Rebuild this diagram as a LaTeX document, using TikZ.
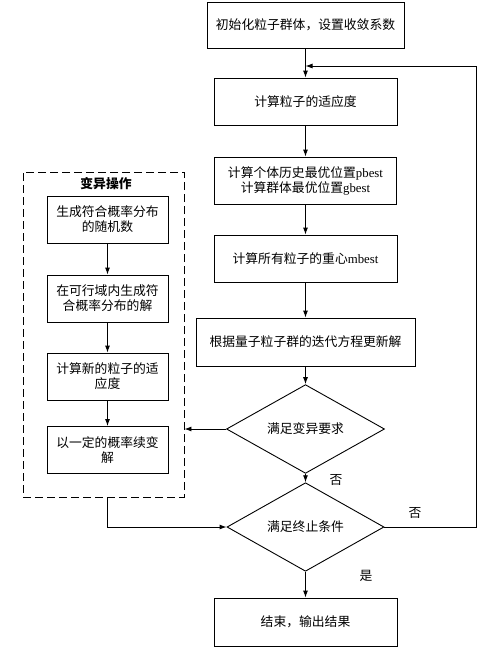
\documentclass[tikz,border=0pt]{standalone}
\usepackage{fontspec}
\setmainfont{Liberation Serif}
\newfontfamily\cjk{Noto Sans CJK SC}
\newfontfamily\lat{Liberation Serif}
\usetikzlibrary{shapes.geometric,arrows.meta}
\begin{document}
\begin{tikzpicture}[x=1pt,y=-1pt,
  box/.style={draw,line width=0.9pt,inner sep=0pt,align=center,
    font=\cjk\fontsize{12.8}{15}\selectfont},
  dia/.style={draw,diamond,line width=0.9pt,inner sep=0pt,align=center,
    font=\cjk\fontsize{12.8}{15}\selectfont},
  lbl/.style={font=\cjk\fontsize{12.8}{15}\selectfont,inner sep=0pt},
  conn/.style={line width=0.9pt,-{Latex[length=7pt,width=5pt]}},
  plain/.style={line width=0.9pt}
]
\useasboundingbox (0,0) rectangle (499,648);
% main column
\node[box,minimum width=197pt,minimum height=46pt] (b1) at (305.5,25) {初始化粒子群体，设置收敛系数};
\node[box,minimum width=183pt,minimum height=47pt] (b2) at (305.5,101.5) {计算粒子的适应度};
\node[box,minimum width=182pt,minimum height=47pt] (b3) at (305.5,180.5) {计算个体历史最优位置{\lat pbest}\\计算群体最优位置{\lat gbest}};
\node[box,minimum width=183pt,minimum height=47pt] (b4) at (305.5,258.5) {计算所有粒子的重心{\lat mbest}};
\node[box,minimum width=219pt,minimum height=48pt] (b5) at (305.5,342) {根据量子粒子群的迭代方程更新解};
\node[dia,minimum width=158pt,minimum height=68pt] (d1) at (305.5,429) {满足变异要求};
\node[dia,minimum width=157pt,minimum height=68pt] (d2) at (305.5,527) {满足终止条件};
\node[box,minimum width=183pt,minimum height=48pt] (end) at (305.5,622) {结束，输出结果};
% mutation block
\node[draw,line width=0.9pt,dash pattern=on 8pt off 4pt,minimum width=161pt,minimum height=325pt,inner sep=0pt] (mut) at (103.5,334.5) {};
\node[lbl,font=\cjk\bfseries\fontsize{12.8}{15}\selectfont] (mt) at (106,184) {变异操作};
\node[box,minimum width=121pt,minimum height=47pt] (l1) at (107.5,219.5) {生成符合概率分布\\的随机数};
\node[box,minimum width=121pt,minimum height=47pt] (l2) at (107.5,298.5) {在可行域内生成符\\合概率分布的解};
\node[box,minimum width=121pt,minimum height=47pt] (l3) at (107.5,376.5) {计算新的粒子的适\\应度};
\node[box,minimum width=121pt,minimum height=47pt] (l4) at (107.5,450) {以一定的概率续变\\解};
% coordinates
\coordinate (loopR) at (476,527);
\coordinate (loopT) at (476,66);
\coordinate (loopE) at (305.5,66);
\coordinate (mutB) at (107.5,497);
\coordinate (mutC) at (107.5,527);
% connectors
\draw[conn] (b1) -- (b2);
\draw[conn] (b2) -- (b3);
\draw[conn] (b3) -- (b4);
\draw[conn] (b4) -- (b5);
\draw[conn] (b5) -- (d1);
\draw[conn] (d1) -- (d2);
\draw[conn] (d2) -- (end);
\draw[conn] (l1) -- (l2);
\draw[conn] (l2) -- (l3);
\draw[conn] (l3) -- (l4);
\draw[conn] (d1.west) -- (mut.east |- d1.west);
\draw[conn] (mutB) -- (mutC) -- (d2.west);
\draw[conn] (d2.east) -- (loopR) -- (loopT) -- (loopE);
% labels
\node[lbl] (no1) at (336,480) {否};
\node[lbl] (no2) at (415,513) {否};
\node[lbl] (yes) at (366,576) {是};
\end{tikzpicture}
\end{document}
